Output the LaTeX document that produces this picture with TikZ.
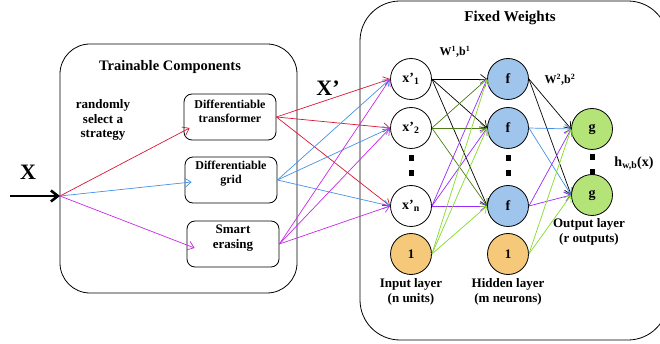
\documentclass[tikz,border=0pt]{standalone}
\usepackage{fontspec}
\setmainfont{Liberation Serif}
\usepackage{tikz}
\usetikzlibrary{positioning}
\usetikzlibrary{arrows.meta}
\usetikzlibrary{calc}

\definecolor{redarr}{RGB}{220,20,50}
\definecolor{bluearr}{RGB}{70,145,230}
\definecolor{magarr}{RGB}{200,40,230}
\definecolor{darkgreenarr}{RGB}{75,125,20}
\definecolor{violetarr}{RGB}{150,40,250}
\definecolor{limearr}{RGB}{130,220,40}
\definecolor{hidfill}{RGB}{160,197,237}
\definecolor{biasfill}{RGB}{245,200,122}
\definecolor{outfill}{RGB}{180,228,120}

\begin{document}
\begin{tikzpicture}[x=1pt,y=-1pt,font=\bfseries,
  neuron/.style={circle,draw,line width=0.8pt,minimum size=41pt,inner sep=0pt,font=\bfseries\fontsize{14}{14}\selectfont},
  compbox/.style={draw,rounded corners=8pt,line width=0.8pt,minimum width=92pt,minimum height=46pt},
  arr/.style={-{Straight Barb[length=6pt,width=9pt]},line width=0.7pt},
  dot/.style={fill=black,minimum width=5pt,minimum height=6pt,inner sep=0pt}]

\useasboundingbox (0,0) rectangle (660,344);

% the two frames
\draw[line width=0.8pt,rounded corners=30pt] (60,44) rectangle (297,293);
\draw[line width=0.8pt,rounded corners=40pt] (360,1) rectangle (668,340);

\node[font=\bfseries\fontsize{14.5}{16}\selectfont] (trainttl) at (170,67) {Trainable Components};
\node[font=\bfseries\fontsize{15}{16}\selectfont] (fixedttl) at (510,18) {Fixed Weights};
\node[font=\bfseries\fontsize{13}{14.5}\selectfont,align=center] (strat) at (103,120) {randomly\\select a\\strategy};

% trainable components
\node[compbox] (trans) at (230,117) {};
\node[compbox] (grid) at (231,180) {};
\node[compbox] (erase) at (233,244) {};
\node[font=\bfseries\fontsize{12}{14}\selectfont,align=center] (transtxt) at (230,111) {Differentiable\\transformer};
\node[font=\bfseries\fontsize{12}{14}\selectfont,align=center] (gridtxt) at (231,174) {Differentiable\\grid};
\node[font=\bfseries\fontsize{13}{15}\selectfont,align=center] (erasetxt) at (233,238) {Smart\\erasing};

\node[font=\bfseries\fontsize{22}{22}\selectfont] (xlbl) at (28,172) {X};
\node[font=\bfseries\fontsize{22}{22}\selectfont] (xplbl) at (328,88) {X’};

\coordinate (xstart) at (10,196);
\coordinate (xin) at (60,196);
\draw[-{Straight Barb[length=7pt,width=11pt]},line width=2.6pt] (xstart) -- (xin);

\draw[arr,redarr] (xin) -- ($(trans.west)+(6,11)$);
\draw[arr,bluearr] (xin) -- ($(grid.west)+(7,2)$);
\draw[arr,magarr] (xin) -- ($(erase.west)+(8,4)$);

% dots between neurons
\foreach \x in {411,508}
  \foreach \y in {158,173}
    \node[dot] at (\x,\y) {};
\node[dot] (odot1) at (592,157) {};
\node[dot] (odot2) at (592,172) {};

% neurons
\node[neuron] (x1) at (411,79) {x’\textsubscript{1}};
\node[neuron] (x2) at (411,128) {x’\textsubscript{2}};
\node[neuron] (xn) at (411,206) {x’\textsubscript{n}};
\node[neuron,fill=biasfill,font=\bfseries\fontsize{13}{13}\selectfont] (b1) at (411,254) {1};
\node[neuron,fill=hidfill] (f1) at (508,79) {f};
\node[neuron,fill=hidfill] (f2) at (508,128) {f};
\node[neuron,fill=hidfill] (f3) at (508,206) {f};
\node[neuron,fill=biasfill,font=\bfseries\fontsize{13}{13}\selectfont] (b2) at (508,254) {1};
\node[neuron,fill=outfill] (g1) at (592,129) {g};
\node[neuron,fill=outfill] (g2) at (592,195) {g};

% layer labels
\node[font=\bfseries\fontsize{13}{15}\selectfont,align=center] (inlbl) at (411,292) {Input layer\\(n units)};
\node[font=\bfseries\fontsize{13}{15}\selectfont,align=center] (hidlbl) at (508,292) {Hidden layer\\(m neurons)};
\node[font=\bfseries\fontsize{13}{15}\selectfont,align=center] (outlbl) at (589,232) {Output layer\\(r outputs)};
\node[font=\bfseries\fontsize{12}{12}\selectfont] (w1lbl) at (455,52) {W\textsuperscript{1},b\textsuperscript{1}};
\node[font=\bfseries\fontsize{12}{12}\selectfont] (w2lbl) at (560,80) {W\textsuperscript{2},b\textsuperscript{2}};
\node[font=\bfseries\fontsize{14}{14}\selectfont] (hlbl) at (634,163) {h\textsubscript{w,b}(x)};

% connections
\foreach \s/\c in {trans/redarr,grid/bluearr,erase/magarr}
  \foreach \t in {x1,x2,xn}
    \draw[arr,\c] (\s.east) -- (\t.west);
\foreach \s/\c in {x1/black,x2/darkgreenarr,xn/violetarr,b1/limearr}
  \foreach \t in {f1,f2,f3}
    \draw[arr,\c] (\s.east) -- (\t.west);
\foreach \s/\c in {f1/black,f2/bluearr,f3/violetarr,b2/limearr}
  \foreach \t in {g1,g2}
    \draw[arr,\c] (\s.east) -- (\t.west);

\end{tikzpicture}
\end{document}
